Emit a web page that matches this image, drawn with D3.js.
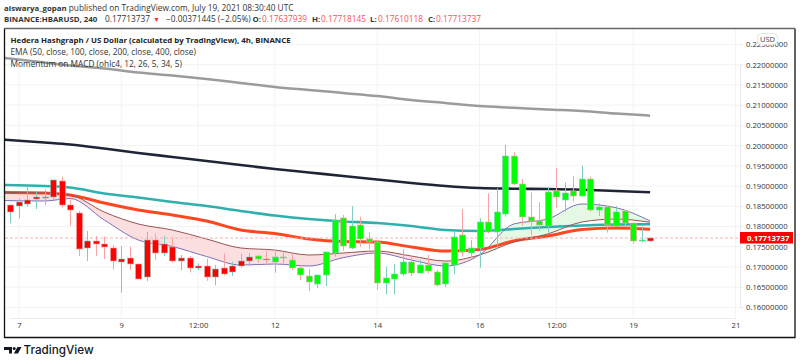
<!DOCTYPE html>
<html><head><meta charset="utf-8">
<script src="https://cdn.jsdelivr.net/npm/d3@7/dist/d3.min.js"></script>
<style>html,body{margin:0;padding:0;background:#fff}svg{display:block}text{font-family:"Open Sans",sans-serif}</style>
</head><body><svg id="c" width="800" height="362"></svg>
<script>
const open=[.18349,.18513,.18563,.18686,.18711,.18719,.19123,.18538,.18332,.17459,.17632,.17574,.17467,.17129,.17211,.17071,.1675,.17656,.17335,.17492,.17145,.1722,.16972,.17014,.1675,.16964,.16874,.1703,.17138,.17261,.17187,.17129,.1722,.17179,.16981,.16767,.16569,.16808,.17344,.18201,.17475,.18036,.1769,.17607,.1661,.16701,.16825,.17129,.16857,.17039,.16874,.16586,.17047,.1778,.17351,.17475,.18101,.1787,.18315,.19741,.19057,.18241,.18134,.18002,.18884,.18661,.18876,.18752,.19181,.18406,.1848,.18019,.1839,.18076,.1764,.17638];
const high=[.1853,.18695,.18983,.18859,.18917,.19156,.1923,.18695,.18381,.17887,.17763,.17747,.17541,.17516,.175,.17071,.17862,.17829,.17772,.17722,.17294,.17269,.17088,.17203,.17047,.17335,.17129,.17319,.17335,.17294,.17401,.17418,.1736,.17335,.17047,.16948,.16808,.17377,.18308,.18283,.18505,.18242,.17863,.17665,.17006,.17072,.17434,.17269,.17171,.17294,.16923,.17105,.17871,.18431,.17664,.182,.18818,.18942,.20013,.19832,.19172,.18843,.18596,.18966,.19452,.1909,.19246,.19502,.1923,.18571,.18505,.18505,.18406,.18076,.17953,.17718];
const low=[.18077,.182,.18489,.18431,.1853,.18653,.18464,.18019,.17269,.17145,.17277,.17195,.16939,.16363,.16923,.16692,.16651,.1717,.17269,.17104,.16923,.16865,.16923,.16659,.16544,.16791,.16775,.16981,.17022,.17105,.17055,.16857,.17088,.16923,.16676,.16404,.16478,.16528,.17253,.17401,.17434,.175,.17434,.16429,.16322,.16322,.16775,.16775,.16841,.16841,.16511,.16503,.16825,.17252,.17228,.1698,.17829,.17458,.18241,.19024,.18019,.17788,.17887,.17846,.18464,.18365,.18612,.18736,.18365,.18258,.17846,.17994,.17994,.17574,.17607,.1761];
const close=[.1853,.18612,.18662,.18728,.18728,.19156,.18538,.18406,.1745,.17632,.17557,.17492,.17137,.17203,.1708,.16709,.17656,.17335,.17557,.17145,.1722,.16972,.17014,.1675,.16939,.16816,.17022,.17145,.17253,.17195,.17162,.17237,.17237,.16981,.16808,.16619,.16792,.17377,.18151,.17525,.18011,.1769,.17607,.16594,.16734,.16816,.17121,.16857,.17039,.16891,.16553,.17088,.17739,.17376,.17458,.18101,.1787,.18348,.19741,.19057,.18241,.18134,.18027,.18851,.18719,.18818,.1876,.19181,.18406,.1848,.18027,.18357,.18085,.17648,.17664,.17714];
const momentum=[-1,-1,-1,-1,-1,-1,-1,-1,-1,-1,-1,-1,-1,-1,-1,-1,-1,-1,-1,-1,-1,-1,-1,-1,-1,-1,-1,-1,-1,1,-1,1,1,1,1,1,1,1,1,1,1,1,1,1,1,1,1,1,1,1,1,1,1,1,1,1,1,1,1,1,1,1,1,1,1,1,1,1,1,1,1,1,1,1,1,-1];
const lineIdx=[-1,4,7,11,15,19,23,27,31,35,39,43,47,51,55,59,63,67,71,75];
const ema400=[.22169,.22052,.21978,.21904,.21805,.21731,.21645,.21546,.21447,.21373,.21299,.21224,.21126,.21051,.20977,.20935,.20891,.20854,.20792,.20738];
const ema200=[.20149,.20075,.20026,.19927,.19816,.19717,.19618,.19519,.1942,.19334,.19247,.19161,.19074,.19,.18951,.18933,.18926,.18909,.18876,.18844];
const ema100=[.19025,.19,.18963,.18815,.18716,.18605,.18506,.18382,.18271,.18184,.18123,.18086,.18011,.17912,.17888,.17937,.17987,.18024,.18048,.18053];
const ema50=[.18839,.18827,.18778,.1858,.18407,.18283,.18135,.17912,.17826,.1769,.17628,.17616,.17492,.17393,.17431,.17641,.17764,.17925,.17962,.1793];
const macdSlow=[.18839,.18827,.18778,.18357,.18061,.17912,.1769,.17468,.17418,.17295,.17344,.17393,.1727,.17146,.17295,.17616,.17814,.1811,.18184,.18103];
const macdFast=[.18642,.18629,.18691,.1816,.17665,.17505,.17258,.17047,.17072,.17023,.17228,.17344,.17171,.17023,.17295,.18061,.18184,.18555,.18464,.18135];
const priceTicks=[.16,.165,.17,.175,.18,.185,.19,.195,.2,.205,.21,.215,.22,.225];
const timeTickIdx=[1,13,22,31,43,55,64,73,85];
const timeTickLabels=["7","9","12:00","12","14","16","12:00","19","21"];
const lastPrice=.17713737;

const L=5,R=740,T=29,B=318,FR=795,FB=337;
const svg=d3.select("#c");
const x=d3.scaleLinear().domain([0,85]).range([10.4,735.4]);
const y=d3.scaleLinear().domain([.16,.22]).range([307.4,64.6]);
const defs=svg.append("defs");
defs.append("clipPath").attr("id","plot").append("rect").attr("x",L).attr("y",T).attr("width",R-L).attr("height",B-T);

const g=svg.append("g");
g.selectAll(".h").data(priceTicks).join("line").attr("x1",L).attr("x2",R).attr("y1",d=>y(d)).attr("y2",d=>y(d)).attr("stroke","#f3f3f3");
g.selectAll(".v").data(timeTickIdx).join("line").attr("x1",d=>x(d)).attr("x2",d=>x(d)).attr("y1",T).attr("y2",B).attr("stroke","#f3f3f3");

const plot=svg.append("g").attr("clip-path","url(#plot)");
const nodes=lineIdx.map((d,i)=>i);
const cv=d3.curveMonotoneX;
const line=a=>d3.line().x(i=>x(lineIdx[i])).y(i=>y(a[i])).curve(cv)(nodes);

defs.append("clipPath").attr("id","above").append("path").attr("d",d3.area().x(i=>x(lineIdx[i])).y0(T).y1(i=>y(macdSlow[i])).curve(cv)(nodes));
defs.append("clipPath").attr("id","below").append("path").attr("d",d3.area().x(i=>x(lineIdx[i])).y0(B).y1(i=>y(macdSlow[i])).curve(cv)(nodes));
const band=d3.area().x(i=>x(lineIdx[i])).y0(i=>y(macdFast[i])).y1(i=>y(macdSlow[i])).curve(cv)(nodes);
plot.append("g").attr("clip-path","url(#above)").append("path").attr("d",band).attr("fill","#e4f8e4");
plot.append("g").attr("clip-path","url(#below)").append("path").attr("d",band).attr("fill","#fbdfe0");

[[ema400,"#9b9b9b",2.5],[ema200,"#1f2536",2.6],[ema100,"#2eb0ad",2.6],[ema50,"#ff4720",3],[macdSlow,"#9a5252",1],[macdFast,"#7c70b8",1]].forEach(([a,c,w])=>{
  plot.append("path").attr("d",line(a)).attr("fill","none").attr("stroke",c).attr("stroke-width",w);
});

plot.append("line").attr("x1",L).attr("x2",R).attr("y1",y(lastPrice)).attr("y2",y(lastPrice)).attr("stroke","#f7b4b4").attr("stroke-dasharray","3 2");

const ids=open.map((d,i)=>i);
const edge=i=>close[i]>=open[i]?"#80cbc4":"#f5a3a3";
const topY=i=>Math.round(y(Math.max(open[i],close[i])));
const botY=i=>Math.round(y(Math.min(open[i],close[i])));
plot.selectAll(".w").data(ids).join("line").attr("x1",i=>Math.round(x(i))+.5).attr("x2",i=>Math.round(x(i))+.5)
  .attr("y1",i=>y(high[i])).attr("y2",i=>y(low[i])).attr("stroke",edge);
plot.selectAll(".b").data(ids).join("rect").attr("x",i=>Math.round(x(i))-2.5).attr("width",6)
  .attr("y",topY).attr("height",i=>Math.max(1,botY(i)-topY(i)))
  .attr("fill",i=>momentum[i]>0?"#00ff00":"#ff0000").attr("stroke",edge).attr("stroke-width",.6);

const ax=d3.axisRight(y).tickValues(priceTicks).tickFormat(d3.format(".8f")).tickSize(3).tickPadding(3);
const ag=svg.append("g").attr("transform",`translate(${R},0)`).call(ax);
const bx=d3.axisBottom(x).tickValues(timeTickIdx).tickFormat((d,i)=>timeTickLabels[i]).tickSize(0).tickPadding(5);
const bg=svg.append("g").attr("transform",`translate(0,${B})`).call(bx);
[ag,bg].forEach(a=>{a.select(".domain").attr("stroke","#ececec");a.selectAll("text").attr("fill","#333").attr("font-size",7.7).attr("font-family",'"Open Sans",sans-serif');a.selectAll("line").attr("stroke","#e8e8e8");});

svg.append("rect").attr("x",757.5).attr("y",33.5).attr("width",20).attr("height",11).attr("rx",4).attr("fill","#fff").attr("stroke","#e4e4e4");
svg.append("text").attr("x",767.5).attr("y",41.5).attr("text-anchor","middle").attr("font-size",7.5).attr("fill","#444").text("USD");

svg.append("rect").attr("x",740).attr("y",232).attr("width",53).attr("height",11.5).attr("fill","#ff0000");
svg.append("text").attr("x",747).attr("y",240.8).attr("font-size",7.8).attr("font-weight",700).attr("fill","#fff").text(d3.format(".8f")(lastPrice));

svg.append("path").attr("d",`M4.5 29V337.5H${FR}V29`).attr("fill","none").attr("stroke","#111").attr("stroke-width",1.3);
svg.append("line").attr("x1",4).attr("x2",FR+.5).attr("y1",28.5).attr("y2",28.5).attr("stroke","#666").attr("stroke-width",1.4);

const h1=svg.append("text").attr("x",4).attr("y",11).attr("font-size",8.3).attr("fill","#333");
h1.append("tspan").attr("font-weight",700).attr("font-size",7.85).text("aiswarya_gopan");
h1.append("tspan").text(" published on TradingView.com, July 19, 2021 08:30:40 UTC");
const h2=svg.append("text").attr("y",22).attr("font-size",8.3).attr("fill","#333");
h2.append("tspan").attr("x",4).attr("font-weight",700).attr("font-size",7.85).text("BINANCE:HBARUSD, 240");
h2.append("tspan").attr("x",105).text("0.17713737");
h2.append("tspan").attr("x",153).attr("fill","#f23645").attr("font-size",7).text("▼");
h2.append("tspan").attr("x",166).text("−0.00371445 (−2.05%)");
[["O:","0.17637939",252.5,262],["H:","0.17718145",312,321],["L:","0.17610118",370,378],["C:","0.17713737",428,436]].forEach(([k,v,a,b])=>{
  h2.append("tspan").attr("x",a).attr("font-weight",700).attr("font-size",7.85).text(k);
  h2.append("tspan").attr("x",b).attr("fill","#f4515c").text(v);
});
svg.append("text").attr("x",10.5).attr("y",43).attr("font-size",7.85).attr("font-weight",700).attr("fill","#222").text("Hedera Hashgraph / US Dollar (calculated by TradingView), 4h, BINANCE");
svg.append("text").attr("x",10.5).attr("y",55).attr("font-size",8.3).attr("fill","#333").text("EMA (50, close, 100, close, 200, close, 400, close)");
svg.append("text").attr("x",10.5).attr("y",66.5).attr("font-size",8.3).attr("fill","#333").text("Momentum on MACD (ohlc4, 12, 26, 5, 34, 5)");

svg.append("path").attr("d","M4 347H12V353.5H9V350H4ZM17.5 347H21.5L18 353.5H13.8Z").attr("fill","#131722");
svg.append("circle").attr("cx",14.2).attr("cy",348.6).attr("r",1.5).attr("fill","#131722");
svg.append("text").attr("x",23.5).attr("y",354).attr("font-size",11.7).attr("font-weight",500).attr("fill","#131722").style("font-family","Inter,sans-serif").text("TradingView");
</script></body></html>
